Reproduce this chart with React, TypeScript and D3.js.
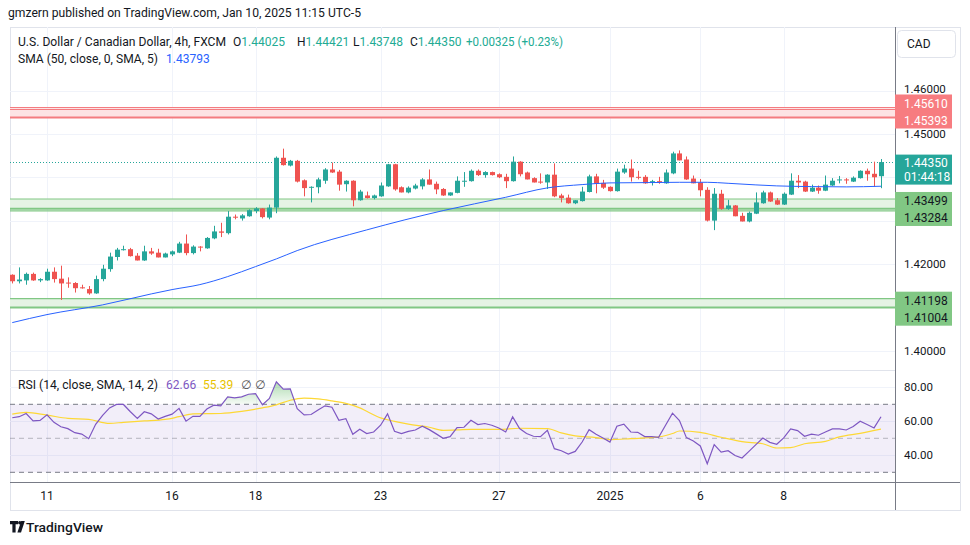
import React from 'react';
import * as d3 from 'd3';

// ---------- DATA ----------
const ohlc: [number, number, number, number][] = [
  [1.4175,1.4176,1.4155,1.4160],[1.4160,1.4192,1.4155,1.4164],[1.4162,1.4180,1.4152,1.4177],[1.4177,1.4180,1.4161,1.4162],
  [1.4162,1.4167,1.4158,1.4165],[1.4162,1.4189,1.4161,1.4182],[1.4182,1.4192,1.4157,1.4165],[1.4166,1.4196,1.4117,1.4155],
  [1.4157,1.4169,1.4145,1.4155],[1.4156,1.4158,1.4134,1.4144],[1.4146,1.4152,1.4143,1.4144],[1.4142,1.4149,1.4129,1.4132],
  [1.4132,1.4173,1.4131,1.4165],[1.4165,1.4198,1.4160,1.4189],[1.4188,1.4226,1.4182,1.4217],[1.4216,1.4237,1.4208,1.4233],
  [1.4233,1.4242,1.4231,1.4234],[1.4234,1.4237,1.4217,1.4218],[1.4219,1.4225,1.4208,1.4208],[1.4208,1.4242,1.4207,1.4229],
  [1.4229,1.4237,1.4221,1.4224],[1.4226,1.4235,1.4215,1.4215],[1.4215,1.4226,1.4215,1.4224],[1.4222,1.4231,1.4218,1.4229],
  [1.4226,1.4251,1.4225,1.4247],[1.4247,1.4268,1.4220,1.4225],[1.4225,1.4243,1.4222,1.4240],[1.4240,1.4241,1.4229,1.4238],
  [1.4236,1.4262,1.4235,1.4260],[1.4259,1.4288,1.4257,1.4275],[1.4275,1.4295,1.4262,1.4272],[1.4271,1.4322,1.4268,1.4309],
  [1.4309,1.4314,1.4303,1.4308],[1.4305,1.4315,1.4300,1.4312],[1.4310,1.4326,1.4309,1.4324],[1.4322,1.4331,1.4317,1.4328],
  [1.4328,1.4329,1.4305,1.4308],[1.4307,1.4337,1.4303,1.4330],[1.4330,1.4448,1.4317,1.4445],[1.4445,1.4466,1.4427,1.4428],
  [1.4427,1.4440,1.4425,1.4438],[1.4438,1.4440,1.4388,1.4390],[1.4393,1.4395,1.4356,1.4375],[1.4376,1.4379,1.4342,1.4378],
  [1.4377,1.4399,1.4363,1.4395],[1.4392,1.4421,1.4385,1.4418],[1.4418,1.4434,1.4410,1.4411],[1.4413,1.4417,1.4369,1.4383],
  [1.4384,1.4393,1.4367,1.4392],[1.4392,1.4393,1.4333,1.4347],[1.4347,1.4371,1.4346,1.4367],[1.4358,1.4367,1.4351,1.4352],
  [1.4352,1.4360,1.4349,1.4358],[1.4356,1.4388,1.4355,1.4381],[1.4379,1.4431,1.4378,1.4430],[1.4430,1.4431,1.4369,1.4372],
  [1.4377,1.4379,1.4365,1.4365],[1.4365,1.4379,1.4363,1.4376],[1.4374,1.4385,1.4372,1.4381],[1.4379,1.4398,1.4372,1.4395],
  [1.4395,1.4418,1.4383,1.4383],[1.4385,1.4390,1.4361,1.4372],[1.4373,1.4375,1.4357,1.4358],[1.4358,1.4365,1.4357,1.4365],
  [1.4364,1.4402,1.4363,1.4392],[1.4391,1.4412,1.4378,1.4392],[1.4391,1.4418,1.4390,1.4415],[1.4415,1.4418,1.4403,1.4405],
  [1.4405,1.4414,1.4399,1.4412],[1.4412,1.4413,1.4404,1.4405],[1.4407,1.4409,1.4398,1.4400],[1.4401,1.4408,1.4375,1.4391],
  [1.4391,1.4448,1.4390,1.4436],[1.4436,1.4437,1.4402,1.4407],[1.4411,1.4413,1.4395,1.4395],[1.4398,1.4400,1.4388,1.4388],
  [1.4390,1.4409,1.4385,1.4388],[1.4388,1.4407,1.4373,1.4406],[1.4406,1.4432,1.4354,1.4356],[1.4358,1.4362,1.4342,1.4352],
  [1.4353,1.4360,1.4339,1.4340],[1.4340,1.4347,1.4338,1.4347],[1.4345,1.4378,1.4344,1.4367],[1.4366,1.4406,1.4365,1.4402],
  [1.4402,1.4408,1.4363,1.4385],[1.4387,1.4394,1.4373,1.4376],[1.4378,1.4379,1.4367,1.4368],[1.4368,1.4420,1.4367,1.4413],
  [1.4411,1.4429,1.4408,1.4420],[1.4420,1.4441,1.4390,1.4400],[1.4401,1.4415,1.4395,1.4399],[1.4401,1.4405,1.4385,1.4386],
  [1.4388,1.4394,1.4381,1.4391],[1.4391,1.4401,1.4385,1.4388],[1.4386,1.4418,1.4385,1.4411],[1.4409,1.4459,1.4407,1.4455],
  [1.4455,1.4462,1.4439,1.4439],[1.4441,1.4448,1.4394,1.4395],[1.4397,1.4404,1.4386,1.4386],[1.4388,1.4396,1.4356,1.4370],
  [1.4371,1.4377,1.4298,1.4300],[1.4300,1.4375,1.4278,1.4362],[1.4362,1.4371,1.4325,1.4327],[1.4327,1.4348,1.4325,1.4335],
  [1.4335,1.4336,1.4310,1.4310],[1.4311,1.4318,1.4298,1.4298],[1.4298,1.4321,1.4296,1.4318],[1.4316,1.4365,1.4315,1.4342],
  [1.4340,1.4369,1.4339,1.4365],[1.4365,1.4367,1.4343,1.4344],[1.4347,1.4352,1.4336,1.4337],[1.4337,1.4365,1.4336,1.4362],
  [1.4360,1.4409,1.4359,1.4392],[1.4392,1.4405,1.4375,1.4388],[1.4390,1.4392,1.4366,1.4367],[1.4367,1.4383,1.4366,1.4376],
  [1.4376,1.4381,1.4362,1.4369],[1.4369,1.4404,1.4368,1.4383],[1.4381,1.4398,1.4380,1.4392],[1.4393,1.4403,1.4386,1.4395],
  [1.4395,1.4398,1.4385,1.4393],[1.4390,1.4402,1.4389,1.4399],[1.4398,1.4416,1.4397,1.4415],[1.4415,1.4420,1.4392,1.4407],
  [1.4408,1.4436,1.4378,1.4400],[1.44025,1.44421,1.43748,1.44350],
];

const smaIdx = [0,5,13,20,23,27,31,35,38,41,51,62,71,77,82,86,91,96,100,103,107,110,115,120,125];
const smaVal = [1.40646,1.40831,1.41055,1.41308,1.41408,1.41523,1.41708,1.41938,1.42116,1.42308,1.42785,1.43231,1.43538,1.43755,1.43831,1.4387,1.43877,1.43884,1.43884,1.43861,1.43824,1.43801,1.43785,1.43778,1.43793];

const rsiValues = [
  62.1,62.7,64.6,60.3,60.5,63.8,59.4,56.8,55.7,53.3,52.5,49.8,58.2,63.5,67.9,69.9,69.9,65.6,61.7,65.6,
  64.4,61.3,62.9,64.2,67.6,60.1,62.9,62.9,67.2,69.5,69.1,74.4,73.8,74.4,75.9,76.3,69.7,73.4,83.2,78.9,
  79.1,67.4,63.8,64.0,66.6,69.1,68.3,60.6,61.6,52.4,55.3,52.8,53.7,57.7,64.4,54.1,52.8,54.1,54.9,57.1,
  55.1,52.6,50.0,51.0,56.3,56.5,60.6,58.1,58.7,57.7,56.1,53.7,62.6,55.7,52.8,51.2,51.0,54.7,43.9,42.7,
  40.7,42.3,47.8,55.1,52.4,50.2,47.8,57.1,58.3,53.7,53.5,51.0,51.0,50.6,57.7,64.8,60.4,50.4,48.4,45.5,
  35.0,46.3,41.9,42.7,39.9,38.4,42.3,46.3,50.2,47.6,46.5,50.2,55.5,54.5,51.2,52.4,51.8,53.7,55.5,55.5,
  54.9,56.9,60.0,58.1,56.1,62.66,
];

const rsiSmaIdx = [0,2,5,8,11,14,16,19,22,24,26,30,33,36,38,40,42,44,46,48,50,51,53,55,57,60,62,64,66,70,73,77,79,81,84,86,89,93,95,96,99,102,105,108,110,112,114,117,119,122,125];
const rsiSmaVal = [64.2,65.2,63.6,61.7,61.1,58.8,59.4,60.2,61.1,62.7,64.4,64.6,65.8,67.9,69.7,72.4,73.6,73.2,72.0,70.5,67.9,65.9,62.0,60.0,58.3,56.5,54.7,54.9,55.3,55.3,55.9,55.7,53.2,51.4,50.4,49.2,49.8,50.8,52.8,54.3,53.5,50.6,48.0,46.8,44.3,44.5,46.8,48.2,50.8,52.9,55.39];

const tickIdx = [5,23,35,53,70,86,99,111];
const tickLabels = ['11','16','18','23','27','2025','6','8'];
const priceTicks = [1.40,1.41,1.42,1.43,1.44,1.45,1.46];
const priceLabelTicks = [1.40,1.42,1.45,1.46];
const rsiTicks = [40,60,80];
const zoneHi = [1.45610,1.43499,1.41198];
const zoneLo = [1.45393,1.43284,1.41004];
const zoneColor = ['red','green','green'];
const lastPrice = 1.44350;
const countdown = '01:44:18';

// ---------- STYLE ----------
const FONT = 'Roboto, "DejaVu Sans", sans-serif';
const TXT = '#131722';
const UP = '#26a69a';
const DOWN = '#ef5350';
const L = 10, AX = 895, R = 960, TOP = 27, PB = 370, RB = 482, BOT = 510;

export default function App() {
  const x = d3.scaleLinear().domain([0, ohlc.length - 1]).range([12.25, 881]);
  const y = d3.scaleLinear().domain([1.40, 1.46]).range([350.6, 90.6]);
  const ry = d3.scaleLinear().domain([30, 70]).range([472.3, 404.3]);

  const smaPath = d3.line<number>().x((_, i) => x(smaIdx[i])).y(d => y(d)).curve(d3.curveMonotoneX)(smaVal) || '';
  const rsiPath = d3.line<number>().x((_, i) => x(i)).y(d => ry(d))(rsiValues) || '';
  const rsiSmaPath = d3.line<number>().x((_, i) => x(rsiSmaIdx[i])).y(d => ry(d)).curve(d3.curveMonotoneX)(rsiSmaVal) || '';
  const obArea = d3.area<number>().x((_, i) => x(i)).y0(ry(70)).y1(d => ry(d))(rsiValues) || '';

  const zoneStyles: Record<string, { fill: string; line: string; box: string; txt: string }> = {
    red: { fill: '#fde3e4', line: '#f47c80', box: '#f77c80', txt: '#ffffff' },
    green: { fill: '#e5f3e4', line: '#81c784', box: '#81c784', txt: TXT },
  };
  const zoneLabelShift = [-13, -7, -7];

  return (
    <svg width={970} height={545} style={{ position: 'absolute', left: 0, top: 0, background: '#fff' }} fontFamily={FONT}>
      <defs>
        <clipPath id="pricePane"><rect x={L} y={TOP} width={AX - L} height={PB - TOP} /></clipPath>
        <clipPath id="rsiPane"><rect x={L} y={PB} width={AX - L} height={RB - PB} /></clipPath>
        <clipPath id="obClip"><rect x={L} y={PB} width={AX - L} height={ry(70) - PB} /></clipPath>
        <linearGradient id="obGrad" gradientUnits="userSpaceOnUse" x1={0} x2={0} y1={ry(85)} y2={ry(70)}>
          <stop offset="0" stopColor="#4caf50" stopOpacity={0.5} />
          <stop offset="1" stopColor="#4caf50" stopOpacity={0.05} />
        </linearGradient>
      </defs>
      <rect x={0} y={0} width={970} height={545} fill="#fff" />

      {/* header */}
      <text x={8} y={17} fontSize={12.5} fill={TXT} textLength={353} lengthAdjust="spacingAndGlyphs">
        gmzern published on TradingView.com, Jan 10, 2025 11:15 UTC-5
      </text>

      {/* frame */}
      <rect x={L + 0.5} y={TOP + 0.5} width={R - L} height={BOT - TOP} fill="none" stroke="#e0e3eb" />

      {/* grid */}
      <g stroke="#f0f3fa" strokeWidth={1}>
        {priceTicks.map(p => (
          <line key={'pg' + p} x1={L} x2={AX} y1={Math.round(y(p)) + 0.5} y2={Math.round(y(p)) + 0.5} />
        ))}
        {rsiTicks.map(v => (
          <line key={'rg' + v} x1={L} x2={AX} y1={Math.round(ry(v)) + 0.5} y2={Math.round(ry(v)) + 0.5} />
        ))}
        {tickIdx.map(i => (
          <line key={'vg' + i} x1={Math.round(x(i)) + 0.5} x2={Math.round(x(i)) + 0.5} y1={TOP} y2={RB} />
        ))}
      </g>

      {/* price pane */}
      <g clipPath="url(#pricePane)">
        {zoneHi.map((hi, k) => {
          const s = zoneStyles[zoneColor[k]];
          const yt = y(hi), yb = y(zoneLo[k]);
          return (
            <g key={'z' + k}>
              <rect x={L} y={yt} width={AX - L} height={yb - yt} fill={s.fill} />
              <line x1={L} x2={AX} y1={yt} y2={yt} stroke={s.line} strokeWidth={1.2} />
              <line x1={L} x2={AX} y1={yb + 0.5} y2={yb + 0.5} stroke={s.line} strokeWidth={2} />
              {k === 0 && <line x1={L} x2={AX} y1={yt + 2} y2={yt + 2} stroke={s.line} strokeWidth={1.2} />}
              {k === 1 && <line x1={L} x2={AX} y1={yb + 2.5} y2={yb + 2.5} stroke={s.line} strokeWidth={1.2} />}
            </g>
          );
        })}

        <line x1={L} x2={AX} y1={Math.round(y(lastPrice)) + 0.5} y2={Math.round(y(lastPrice)) + 0.5}
          stroke={UP} strokeWidth={1} strokeDasharray="1 2" />

        {ohlc.map(([o, h, l, c], i) => {
          const up = c >= o;
          const col = up ? UP : DOWN;
          const cx = Math.round(x(i)) + 0.5;
          const bt = y(Math.max(o, c)), bb = y(Math.min(o, c));
          return (
            <g key={'c' + i}>
              <line x1={cx} x2={cx} y1={y(h)} y2={y(l)} stroke={col} strokeWidth={1} />
              <rect x={cx - 2.5} y={bt} width={5} height={Math.max(1, bb - bt)} fill={col} />
            </g>
          );
        })}

        <path d={smaPath} fill="none" stroke="#2962ff" strokeWidth={1} />
      </g>

      {/* legend */}
      <g fontSize={12} fill={TXT}>
        <text x={18} y={46} textLength={208} lengthAdjust="spacingAndGlyphs">U.S. Dollar / Canadian Dollar, 4h, FXCM</text>
        {[
          ['O', '1.44025', 233],
          ['H', '1.44421', 297],
          ['L', '1.43748', 353],
          ['C', '1.44350', 410],
        ].map(([k, v, px]) => (
          <text key={k as string} x={px as number} y={46}>
            <tspan fill={TXT}>{k}</tspan>
            <tspan fill="#22ab94">{v}</tspan>
          </text>
        ))}
        <text x={466} y={46} fill="#22ab94" textLength={97} lengthAdjust="spacingAndGlyphs">+0.00325 (+0.23%)</text>
        <text x={18} y={63} textLength={140} lengthAdjust="spacingAndGlyphs">SMA (50, close, 0, SMA, 5)</text>
        <text x={166} y={63} fill="#2962ff">1.43793</text>
      </g>

      {/* pane separator */}
      <line x1={L} x2={AX} y1={PB + 0.5} y2={PB + 0.5} stroke="#e0e3eb" />

      {/* RSI pane */}
      <g clipPath="url(#rsiPane)">
        <rect x={L} y={ry(70)} width={AX - L} height={ry(30) - ry(70)} fill="#7e57c2" fillOpacity={0.1} />
        <line x1={L} x2={AX} y1={ry(70)} y2={ry(70)} stroke="#787b86" strokeDasharray="5 4" />
        <line x1={L} x2={AX} y1={ry(50)} y2={ry(50)} stroke="#787b86" strokeOpacity={0.5} strokeDasharray="5 4" />
        <line x1={L} x2={AX} y1={ry(30)} y2={ry(30)} stroke="#787b86" strokeDasharray="5 4" />
        <path d={obArea} fill="url(#obGrad)" clipPath="url(#obClip)" />
        <path d={rsiSmaPath} fill="none" stroke="#fdd835" strokeWidth={1.2} />
        <path d={rsiPath} fill="none" stroke="#7e57c2" strokeWidth={1.2} />
      </g>
      <g fontSize={12}>
        <text x={18} y={389} fill={TXT} textLength={140} lengthAdjust="spacingAndGlyphs">RSI (14, close, SMA, 14, 2)</text>
        <text x={166} y={389} fill="#7e57c2">62.66</text>
        <text x={203} y={389} fill="#e8c300">55.39</text>
        <text x={241} y={389} fill="#555">∅</text>
        <text x={255} y={389} fill="#555">∅</text>
      </g>

      {/* axes borders */}
      <line x1={L} x2={R} y1={RB + 0.5} y2={RB + 0.5} stroke="#787b86" />
      <line x1={AX + 0.5} x2={AX + 0.5} y1={TOP} y2={BOT} stroke="#787b86" />

      {/* price axis labels */}
      <g fontSize={11.5} fill={TXT}>
        {priceLabelTicks.map(p => (
          <text key={'pl' + p} x={904} y={y(p) + (p === 1.46 ? 2 : 4)}>{p.toFixed(5)}</text>
        ))}
        {rsiTicks.map(v => (
          <text key={'rl' + v} x={904} y={ry(v) + 4}>{v.toFixed(2)}</text>
        ))}
      </g>

      {/* zone labels */}
      {zoneHi.map((hi, k) => {
        const s = zoneStyles[zoneColor[k]];
        const top = y(hi) + zoneLabelShift[k];
        return (
          <g key={'zl' + k} fontSize={12} fill={s.txt}>
            <rect x={AX} y={top} width={57} height={34} fill={s.box} />
            <text x={904} y={top + 13}>{hi.toFixed(5)}</text>
            <text x={904} y={top + 30}>{zoneLo[k].toFixed(5)}</text>
          </g>
        );
      })}

      {/* last price label */}
      <g fontSize={12} fill="#fff">
        <rect x={AX} y={y(lastPrice) - 7.5} width={57} height={30} fill={UP} />
        <text x={904} y={y(lastPrice) + 5}>{lastPrice.toFixed(5)}</text>
        <text x={904} y={y(lastPrice) + 19}>{countdown}</text>
      </g>

      {/* currency button */}
      <rect x={897.5} y={30.5} width={58} height={27} rx={4} fill="#fff" stroke="#e0e3eb" />
      <text x={907} y={48} fontSize={12} fill={TXT}>CAD</text>

      {/* time axis */}
      <g fontSize={12} fill={TXT} textAnchor="middle">
        {tickIdx.map((i, k) => (
          <text key={'tl' + i} x={x(i)} y={500}>{tickLabels[k]}</text>
        ))}
      </g>

      {/* logo */}
      <g fill={TXT}>
        <path d="M10 521 h8 v3.2 h-2.4 v8.3 h-3.2 v-8.3 h-2.4 z" />
        <circle cx={19.8} cy={522.7} r={1.7} />
        <path d="M21.2 521 h3.6 l-3.8 11.5 h-3.6 z" />
        <text x={26} y={532} fontSize={13} fontWeight={500} textLength={77} lengthAdjust="spacingAndGlyphs">TradingView</text>
      </g>
    </svg>
  );
}
